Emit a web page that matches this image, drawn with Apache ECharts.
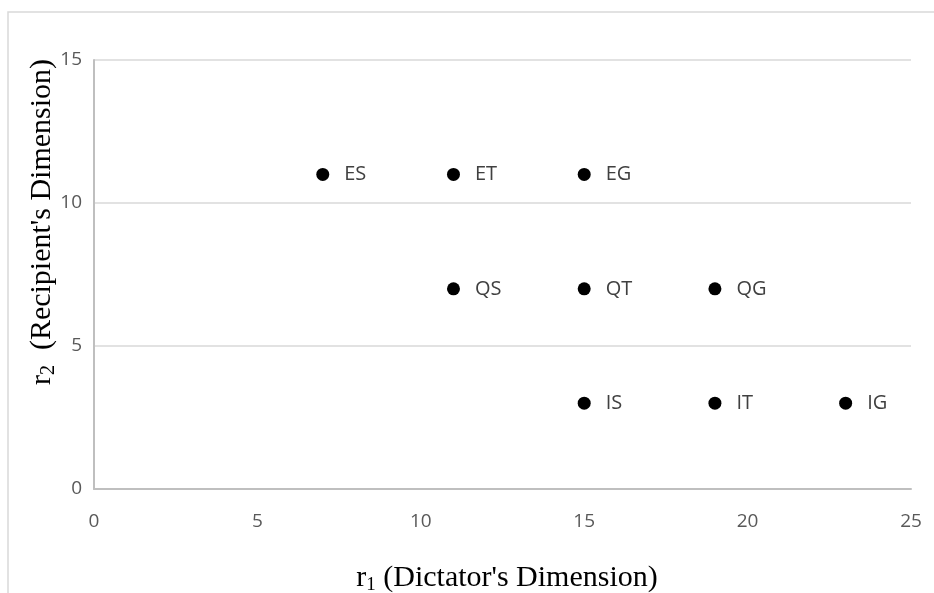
<!DOCTYPE html>
<html><head><meta charset="utf-8">
<script src="https://cdn.jsdelivr.net/npm/echarts@6/dist/echarts.min.js"></script>
<style>html,body{margin:0;padding:0;background:#fff;overflow:hidden}#c{width:934px;height:593px}</style>
</head><body><div id="c"></div>
<script>
const pointLabels = ['ES','ET','EG','QS','QT','QG','IS','IT','IG'];
const r1Values = [7, 11, 15, 11, 15, 19, 15, 19, 23];
const r2Values = [11, 11, 11, 7, 7, 7, 3, 3, 3];
const xTicks = [0, 5, 10, 15, 20, 25];
const yTicks = [0, 5, 10, 15];
const xAxisTitle = ['r', '1', ' (Dictator\'s Dimension)'];
const yAxisTitle = ['r', '2', '  (Recipient\'s Dimension)'];

const data = pointLabels.map((n, i) => ({ value: [r1Values[i], r2Values[i]], name: n }));
const chart = echarts.init(document.getElementById('c'), null, { renderer: 'canvas', width: 934, height: 593 });
const tickFont = { fontFamily: 'Open Sans', fontSize: 19, color: '#595959' };
const serifRich = (size, sub, pad) => ({
  n: { fontFamily: 'Liberation Serif', fontSize: size, fill: '#000' },
  s: { fontFamily: 'Liberation Serif', fontSize: sub, fill: '#000', verticalAlign: 'bottom', padding: [pad, 0, 0, 0] }
});
chart.setOption({
  animation: false,
  grid: { left: 94, right: 23, top: 60, bottom: 104, containLabel: false },
  xAxis: {
    type: 'value', min: xTicks[0], max: xTicks[xTicks.length - 1], interval: 5,
    splitLine: { show: false },
    axisLine: { show: true, lineStyle: { color: '#bfbfbf', width: 2 } },
    axisTick: { show: false },
    axisLabel: Object.assign({ margin: 23 }, tickFont)
  },
  yAxis: {
    type: 'value', min: yTicks[0], max: yTicks[yTicks.length - 1], interval: 5,
    splitLine: { show: true, lineStyle: { color: '#d9d9d9', width: 1.5 } },
    axisLine: { show: true, lineStyle: { color: '#bfbfbf', width: 2 } },
    axisTick: { show: false },
    axisLabel: Object.assign({ margin: 12 }, tickFont)
  },
  graphic: [
    { type: 'rect', shape: { x: 8, y: 12, width: 1000, height: 700 }, style: { fill: 'none', stroke: '#d9d9d9', lineWidth: 1.5 }, silent: true, z: -1 },
    {
      type: 'text', x: 507, y: 578, silent: true,
      style: {
        text: '{n|' + xAxisTitle[0] + '}{s|' + xAxisTitle[1] + '}{n|' + xAxisTitle[2] + '}',
        align: 'center', verticalAlign: 'middle',
        rich: serifRich(30, 19, 14)
      }
    },
    {
      type: 'text', x: 42, y: 222, rotation: Math.PI / 2, silent: true,
      style: {
        text: '{n|' + yAxisTitle[0] + '}{s|' + yAxisTitle[1] + '}{n|' + yAxisTitle[2] + '}',
        align: 'center', verticalAlign: 'middle',
        rich: serifRich(30, 20, 14)
      }
    }
  ],
  series: [{
    type: 'scatter', data: data, symbol: 'circle', symbolSize: 13,
    itemStyle: { color: '#000', opacity: 1 },
    label: {
      show: true, position: 'right', distance: 15,
      formatter: p => p.name,
      fontFamily: 'Open Sans', fontSize: 20, color: '#404040'
    }
  }]
});
</script></body></html>
